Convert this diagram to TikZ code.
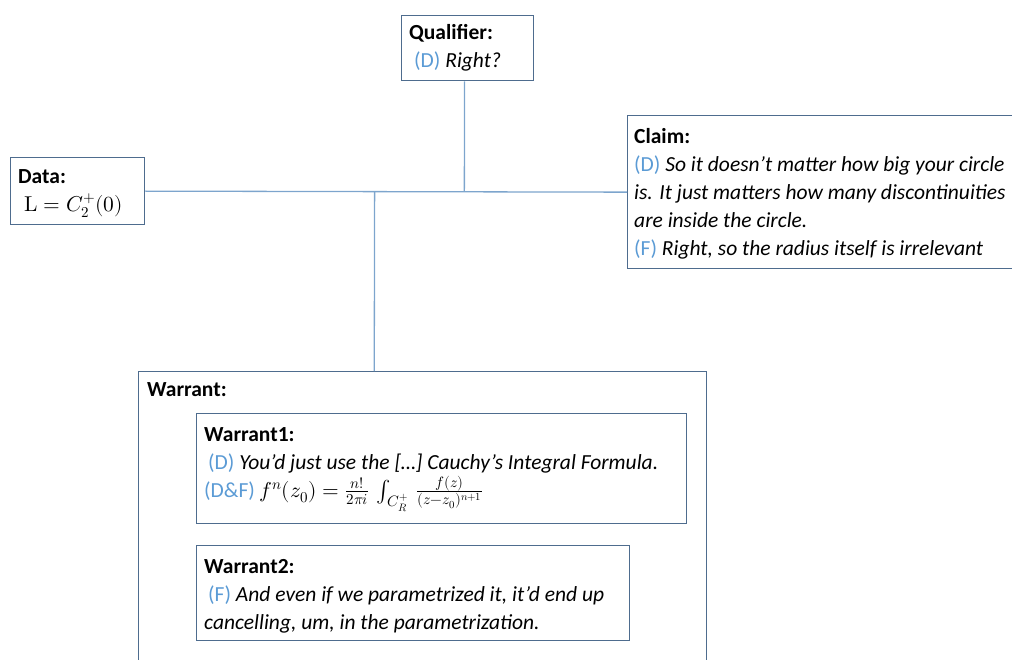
\documentclass[tikz,border=0pt]{standalone}
\usepackage{fontspec}
\usepackage{unicode-math}
\setmainfont{Carlito}
\setmathfont{latinmodern-math.otf}
\usetikzlibrary{calc}
\definecolor{boxline}{RGB}{78,108,142}
\definecolor{linkline}{RGB}{125,165,205}
\definecolor{speaker}{RGB}{91,155,213}
\newcommand{\spk}[1]{\textcolor{speaker}{\upshape #1}}
\begin{document}
\begin{tikzpicture}[x=1pt,y=-1pt,
  panel/.style={draw=boxline, line width=1.3pt, fill=white, rectangle, inner sep=0pt, anchor=north west},
  link/.style={draw=linkline, line width=1.3pt},
  txt/.style={anchor=north west, inner sep=0pt, align=left, font=\fontsize{21.5}{28}\selectfont}]
\useasboundingbox (0,0) rectangle (1012,660);
\clip (0,0) rectangle (1012,660);

% boxes
\node[panel, minimum width=132pt, minimum height=65pt] (qual) at (401,15) {};
\node[panel, minimum width=134pt, minimum height=67pt] (data) at (10,157) {};
\node[panel, minimum width=400pt, minimum height=153pt] (claim) at (627,115) {};
\node[panel, minimum width=568pt, minimum height=320pt] (warrant) at (138,371) {};
\node[panel, minimum width=490pt, minimum height=110pt] (wone) at (196,413) {};
\node[panel, minimum width=433pt, minimum height=95pt] (wtwo) at (196,545) {};

% connectors
\coordinate (qfoot) at ($(qual.south west)!0.477!(qual.south east)$);
\coordinate (wtop) at ($(warrant.north west)!0.415!(warrant.north east)$);
\coordinate (jq) at ($(data.east)!(qfoot)!(claim.west)$);
\coordinate (jw) at ($(data.east)!(wtop)!(claim.west)$);
\draw[link] (data.east) -- (claim.west);
\draw[link] (qfoot) -- (jq);
\draw[link] (jw) -- (wtop);

% texts
\node[txt] (qualtext) at (409,24) {\textbf{Qualifier:}\\\hspace*{5pt}\spk{(D)} \textit{Right?}};
\node[txt] (datatext) at (18,169) {\textbf{Data:}\\\hspace*{6pt}$\symup{L}=C_2^{+}(0)$};
\node[txt] (claimtext) at (634,128) {\textbf{Claim:}\\
\spk{(D)} \textit{So it doesn't matter how big your circle}\\
\textit{is. It just matters how many discontinuities}\\
\textit{are inside the circle.}\\
\spk{(F)} \textit{Right, so the radius itself is irrelevant}};
\node[txt] (warranttext) at (147,382) {\textbf{Warrant:}};
\node[txt] (wonetext) at (204,427) {\textbf{Warrant1:}\\
\hspace*{4pt}\spk{(D)} \textit{You’d just use the [\dots] Cauchy’s Integral Formula.}\\
\spk{(D\&F)} $f^{n}(z_0)=\frac{n!}{2\pi i}\,\int_{\kern4pt C_R^{+}}\,\frac{f(z)}{(z-z_0)^{n+1}}$};
\node[txt] (wtwotext) at (204,559) {\textbf{Warrant2:}\\
\hspace*{4pt}\spk{(F)} \textit{And even if we parametrized it, it'd end up}\\
\textit{cancelling, um, in the parametrization.}};
\end{tikzpicture}
\end{document}
